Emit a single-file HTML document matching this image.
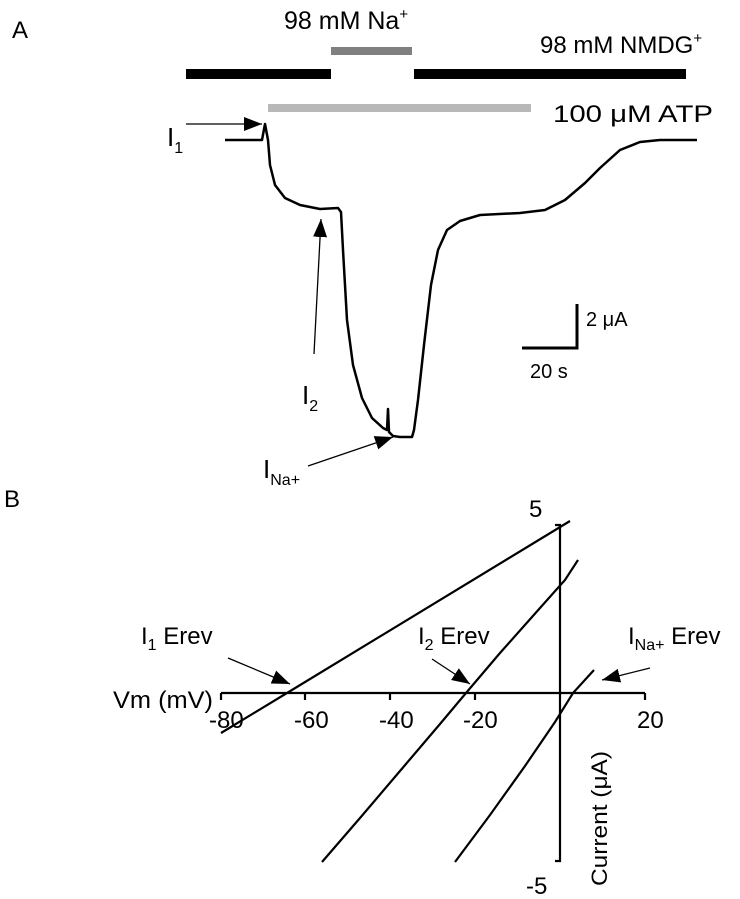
<!DOCTYPE html>
<html><head><style>body{margin:0;background:#fff}svg{display:block}text{font-family:"Liberation Sans",sans-serif;fill:#000}</style></head>
<body>
<svg width="740" height="899" viewBox="0 0 740 899" xmlns="http://www.w3.org/2000/svg">
<defs>
<marker id="ah2" viewBox="0 0 10 10" markerWidth="18" markerHeight="14" refX="10" refY="5" orient="auto" markerUnits="userSpaceOnUse" preserveAspectRatio="none"><path d="M0,0 L10,5 L0,10 Z" fill="#000"/></marker></defs>
<text x="12" y="38" font-size="24">A</text>
<text x="4" y="507" font-size="24">B</text>
<!-- bars -->
<rect x="186" y="69" width="145" height="10" fill="#000"/>
<rect x="414" y="69" width="272" height="10" fill="#000"/>
<rect x="331" y="47" width="81" height="8" fill="#808080"/>
<rect x="268" y="104" width="263" height="8" fill="#b8b8b8"/>
<text x="284" y="29" font-size="25">98 mM Na<tspan font-size="15" dy="-10">+</tspan></text>
<text x="540" y="53" font-size="24">98 mM NMDG<tspan font-size="15" dy="-10">+</tspan></text>
<text x="553" y="122" font-size="24" textLength="160" lengthAdjust="spacingAndGlyphs">100 μM ATP</text>
<!-- trace -->
<path d="M225,140 L262,140 L265,124 L268,140 L270,165 L275,185 L285,198 L300,205 L320,209 L338,208 L341,212 L343,250 L347,320 L353,365 L362,398 L372,418 L383,428 L387,430 L388,409 L389,432 L393,436 L400,437 L412,437 L414,430 L418,400 L424,345 L431,285 L438,250 L447,230 L460,221 L480,215 L520,213 L545,210 L565,200 L585,183 L600,168 L620,150 L640,142 L660,140 L697,140" fill="none" stroke="#000" stroke-width="2.5" stroke-linejoin="round"/>
<!-- arrows A -->
<line x1="186" y1="124" x2="262" y2="124" stroke="#000" stroke-width="1.3" marker-end="url(#ah2)"/>
<line x1="314" y1="354" x2="321" y2="219" stroke="#000" stroke-width="1.3" marker-end="url(#ah2)"/>
<line x1="308" y1="466" x2="393" y2="437" stroke="#000" stroke-width="1.3" marker-end="url(#ah2)"/>
<text x="167" y="146" font-size="26">I<tspan font-size="16" dy="7">1</tspan></text>
<text x="302" y="404" font-size="26">I<tspan font-size="16" dy="7">2</tspan></text>
<text x="263" y="478" font-size="26">I<tspan font-size="16" dy="7">Na+</tspan></text>
<!-- scale bar -->
<path d="M522,348 L577,348 L577,304" fill="none" stroke="#000" stroke-width="3"/>
<text x="586" y="326" font-size="20">2 μA</text>
<text x="530" y="378" font-size="20">20 s</text>
<!-- panel B axes -->
<g stroke="#000" stroke-width="2.2" fill="none">
<line x1="221" y1="693" x2="645" y2="693"/>
<path d="M221,693v7M305,693v7M390,693v7M475,693v7M645,693v7"/>
<path d="M555,525 H560 V861 H555"/>
<path d="M221,733 L287,693 L570,521"/>
<path d="M322,862 L360,818 L400,771 L440,724 L466,693 L500,653 L540,608 L565,580 L578,560"/>
<path d="M455,862 L490,815 L525,766 L555,722 L573,693 L594,670"/>
</g>
<line x1="228" y1="658" x2="290" y2="684" stroke="#000" stroke-width="1.3" marker-end="url(#ah2)"/>
<line x1="432" y1="659" x2="470" y2="684" stroke="#000" stroke-width="1.3" marker-end="url(#ah2)"/>
<line x1="650" y1="668" x2="602" y2="680" stroke="#000" stroke-width="1.3" marker-end="url(#ah2)"/>
<g font-size="24">
<text x="529" y="517">5</text>
<text x="526" y="894">-5</text>
<text x="113" y="708" textLength="100" lengthAdjust="spacingAndGlyphs">Vm (mV)</text>
<text x="209" y="728">-80</text>
<text x="294" y="728">-60</text>
<text x="379" y="728">-40</text>
<text x="463" y="728">-20</text>
<text x="637" y="728">20</text>
<text x="141" y="644">I<tspan font-size="16" dy="6">1</tspan><tspan dy="-6"> Erev</tspan></text>
<text x="418" y="644">I<tspan font-size="16" dy="6">2</tspan><tspan dy="-6"> Erev</tspan></text>
<text x="628" y="644">I<tspan font-size="16" dy="6">Na+</tspan><tspan dy="-6"> Erev</tspan></text>
<text transform="translate(607,886) rotate(-90)" font-size="22" textLength="135" lengthAdjust="spacingAndGlyphs">Current (μA)</text>
</g>
</svg>
</body></html>
